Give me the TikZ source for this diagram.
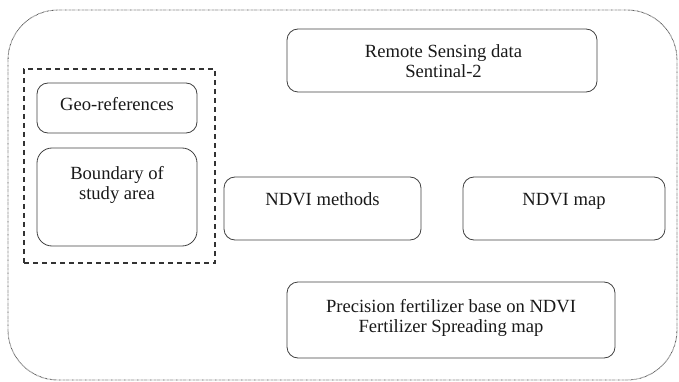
\documentclass[tikz,border=0pt]{standalone}
\usepackage{fontspec}
\setmainfont{Liberation Serif}
\begin{document}
\begin{tikzpicture}[x=1pt,y=-1pt,
  box/.style={draw=black!75, line width=0.8pt, rounded corners=11pt, inner sep=0pt},
  txt/.style={font=\fontsize{18.6}{20}\selectfont, text=black!90, align=center, inner sep=0pt},
  outer/.style={draw=black!70, line width=0.9pt, dash pattern=on 0.6pt off 0.7pt, rounded corners=50pt},
  group/.style={draw=black!80, line width=1.2pt, dash pattern=on 5pt off 4pt}]
\useasboundingbox (0,0) rectangle (679,382);
% outer frame
\draw[outer] (8,10) rectangle (677,380);
% dashed group
\node[group, minimum width=191, minimum height=194, inner sep=0pt] (grp) at (119.5,166) {};
% boxes
\node[box, minimum width=160, minimum height=50] (geo) at (117,108) {};
\node[box, minimum width=160, minimum height=98, rounded corners=15pt] (bnd) at (117,197) {};
\node[box, minimum width=310, minimum height=63] (rs) at (442,60.5) {};
\node[box, minimum width=197, minimum height=63] (nm) at (322.5,208.5) {};
\node[box, minimum width=202, minimum height=63] (map) at (564,208.5) {};
\node[box, minimum width=328, minimum height=76] (pf) at (451,320) {};
% texts
\node[txt, anchor=base] (geo-t) at (117,111) {Geo-references};
\node[txt] (bnd-t) at (117,184.5) {Boundary of\\study area};
\node[txt] (rs-t) at (443.5,61.5) {Remote Sensing data\\Sentinal-2};
\node[txt, anchor=base] (nm-t) at (322.5,205) {NDVI methods};
\node[txt, anchor=base] (map-t) at (564,205) {NDVI map};
\node[txt] (pf-t) at (451,317.5) {Precision fertilizer base on NDVI\\Fertilizer Spreading map};
\end{tikzpicture}
\end{document}
